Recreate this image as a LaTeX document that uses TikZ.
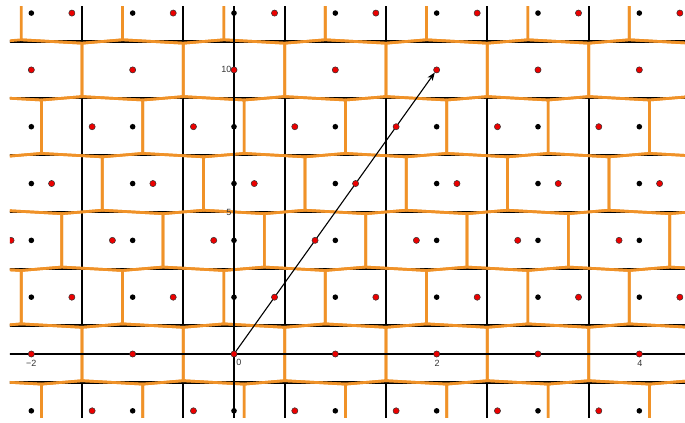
\documentclass[tikz,border=0pt]{standalone}
\usepackage{fontspec}
\setmainfont{Liberation Sans}
\usetikzlibrary{arrows.meta}
\definecolor{cellorange}{RGB}{240,146,40}
\definecolor{dotred}{RGB}{235,0,0}
\tikzset{
  gridline/.style={black, line width=2.3bp},
  axisline/.style={black, line width=2.3bp},
  cellline/.style={cellorange, line width=2.7bp, line join=round},
  blackdot/.style={circle, fill=black, inner sep=0pt, minimum size=5.6bp},
  reddot/.style={circle, fill=dotred, draw=black!80, line width=0.5bp, inner sep=0pt, minimum size=6.2bp},
  ticklabel/.style={font=\fontsize{9bp}{10bp}\selectfont, text=black!80, inner sep=0pt},
  vecline/.style={black, line width=1.1bp, -{Stealth[length=8bp,width=6bp,inset=2bp]}, shorten >=3.2bp}
}
\begin{document}
\begin{tikzpicture}[x=101.33bp, y=28.41bp]
\useasboundingbox (-2.3093,-2.4287) rectangle (4.4508,12.4604);
\begin{scope}
\clip (-2.2106,-2.2175) rectangle (4.4508,12.214);
% black grid (cells of the black lattice)
\foreach \gx in {-1.5,-0.5,0.5,1.5,2.5,3.5}
  \draw[gridline] (\gx,-3) -- (\gx,13);
\foreach \gy in {-1,1,3,5,7,9,11}
  \draw[gridline] (-3,\gy) -- (5,\gy);
% orange cells of the red lattice
\foreach \m in {-2,...,7}{
  \foreach \k in {-4,...,6}{
    \pgfmathsetmacro\ca{0.4*\m+\k}
    \pgfmathsetmacro\cb{2*\m}
    \draw[cellline] ({\ca-0.5},{\cb-0.94}) -- ({\ca-0.5},{\cb+0.94}) -- ({\ca-0.1},{\cb+1.06})
      -- ({\ca+0.5},{\cb+0.94}) -- ({\ca+0.5},{\cb-0.94}) -- ({\ca+0.1},{\cb-1.06}) -- cycle;
  }
}
% axes
\draw[axisline] (-3,0) -- (5,0);
\draw[axisline] (0,-3) -- (0,13);
% vector
\coordinate (O) at (0,0);
\coordinate (P) at (2,10);
\draw[vecline] (O) -- (P);
% black lattice points
\foreach \m in {-2,...,7}{
  \foreach \k in {-3,...,5}{
    \node[blackdot] (b\m\k) at (\k,{2*\m}) {};
  }
}
% red lattice points
\foreach \m in {-2,...,7}{
  \foreach \k in {-4,...,6}{
    \node[reddot] (r\m\k) at ({0.4*\m+\k},{2*\m}) {};
  }
}
\end{scope}
% tick labels
\node[ticklabel] (lxm2) at (-2,0) [yshift=-9bp] {−2};
\node[ticklabel] (lx0) at (0,0) [xshift=5bp, yshift=-8bp] {0};
\node[ticklabel] (lx2) at (2,0) [xshift=0.5bp, yshift=-9bp] {2};
\node[ticklabel] (lx4) at (4,0) [xshift=0.5bp, yshift=-9bp] {4};
\node[ticklabel, anchor=east] (ly5) at (0,5) [xshift=-2.5bp] {5};
\node[ticklabel, anchor=east] (ly10) at (0,10) [xshift=-2.5bp] {10};
\end{tikzpicture}
\end{document}
